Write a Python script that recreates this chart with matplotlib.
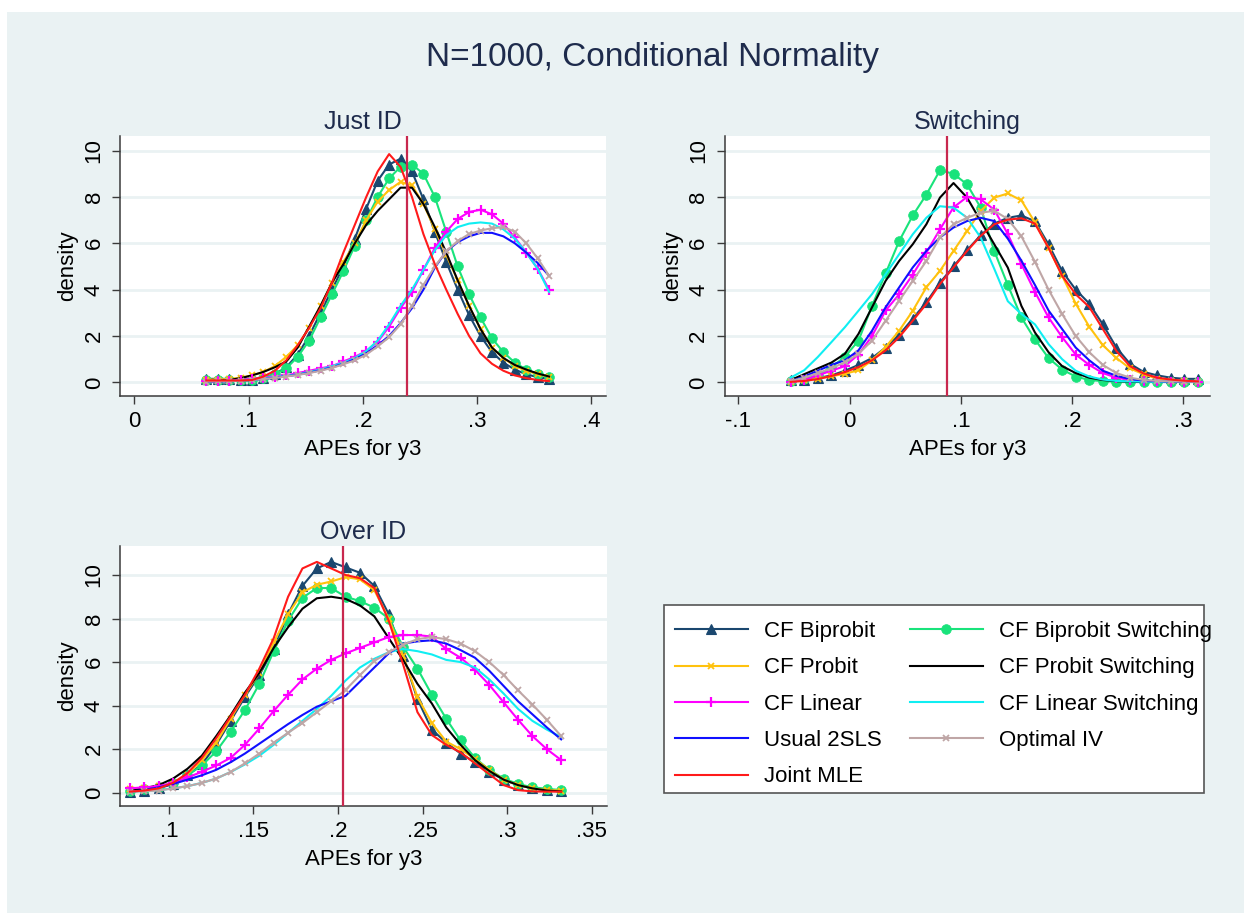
import numpy as np
import matplotlib
matplotlib.use("Agg")
import matplotlib.pyplot as plt
from matplotlib.patches import Rectangle

# ---------------- data ----------------
series_names = ["CF Biprobit", "CF Probit", "CF Linear", "Usual 2SLS", "Joint MLE",
                "CF Biprobit Switching", "CF Probit Switching", "CF Linear Switching", "Optimal IV"]

# Just ID panel (grid of 31 evaluation points)
just_x = np.linspace(0.063, 0.363, 31)
just_cf_biprobit = [0.15, 0.15, 0.15, 0.12, 0.12, 0.2, 0.35, 0.65, 1.2, 2.0, 3.0, 4.0, 5.0, 6.2, 7.5, 8.7,
                    9.4, 9.65, 9.1, 7.9, 6.5, 5.2, 4.0, 2.9, 2.0, 1.3, 0.85, 0.55, 0.35, 0.22, 0.15]
just_cf_probit = [0.12, 0.12, 0.15, 0.2, 0.3, 0.45, 0.7, 1.1, 1.6, 2.35, 3.3, 4.3, 5.2, 6.0, 7.0, 7.8,
                  8.3, 8.65, 8.5, 7.7, 6.6, 5.5, 4.4, 3.3, 2.3, 1.5, 1.05, 0.7, 0.5, 0.35, 0.25]
just_cf_linear = [0.05, 0.05, 0.07, 0.1, 0.15, 0.2, 0.25, 0.3, 0.4, 0.5, 0.6, 0.7, 0.9, 1.1, 1.35, 1.75,
                  2.4, 3.2, 3.9, 4.85, 5.8, 6.5, 7.05, 7.35, 7.45, 7.25, 6.85, 6.25, 5.6, 4.9, 4.0]
just_usual_2sls = [0.02, 0.03, 0.05, 0.07, 0.1, 0.14, 0.2, 0.26, 0.33, 0.42, 0.52, 0.65, 0.8, 1.0, 1.25, 1.6,
                   2.0, 2.55, 3.2, 4.0, 4.95, 5.65, 6.05, 6.3, 6.45, 6.45, 6.3, 6.0, 5.6, 5.15, 4.6]
just_joint_mle = [0.08, 0.08, 0.08, 0.08, 0.1, 0.25, 0.5, 0.95, 1.6, 2.35, 3.2, 4.3, 5.6, 6.8, 8.0, 9.1,
                  9.85, 9.3, 8.0, 6.4, 5.1, 4.0, 2.95, 2.0, 1.25, 0.8, 0.5, 0.3, 0.18, 0.1, 0.05]
just_cf_biprobit_sw = [0.1, 0.1, 0.1, 0.1, 0.12, 0.2, 0.35, 0.6, 1.1, 1.8, 2.8, 3.8, 4.8, 5.9, 7.0, 8.0,
                       8.8, 9.3, 9.4, 9.0, 8.0, 6.5, 5.0, 3.8, 2.8, 1.9, 1.3, 0.85, 0.55, 0.35, 0.25]
just_cf_probit_sw = [0.05, 0.07, 0.1, 0.18, 0.3, 0.45, 0.65, 0.9, 1.5, 2.4, 3.3, 4.3, 5.1, 6.0, 6.8, 7.4,
                     7.9, 8.4, 8.4, 7.7, 6.7, 5.6, 4.4, 3.3, 2.3, 1.5, 1.05, 0.75, 0.55, 0.38, 0.25]
just_cf_linear_sw = [0.05, 0.05, 0.06, 0.08, 0.12, 0.17, 0.22, 0.28, 0.35, 0.45, 0.55, 0.7, 0.85, 1.05, 1.35, 1.8,
                     2.5, 3.3, 4.0, 4.85, 5.7, 6.35, 6.7, 6.85, 6.9, 6.85, 6.6, 6.2, 5.6, 4.9, 3.9]
just_optimal_iv = [0.03, 0.04, 0.05, 0.07, 0.1, 0.14, 0.19, 0.25, 0.32, 0.4, 0.5, 0.62, 0.78, 0.95, 1.2, 1.55,
                   1.95, 2.5, 3.3, 4.2, 5.0, 5.65, 6.1, 6.4, 6.55, 6.65, 6.7, 6.5, 6.0, 5.35, 4.6]

# Switching panel
sw_x = np.linspace(-0.053, 0.313, 31)
sw_cf_biprobit = [0.1, 0.12, 0.18, 0.3, 0.5, 0.75, 1.05, 1.5, 2.05, 2.75, 3.45, 4.3, 5.0, 5.7, 6.35, 6.85,
                  7.1, 7.2, 6.95, 5.95, 4.8, 4.0, 3.4, 2.5, 1.5, 0.8, 0.45, 0.3, 0.2, 0.15, 0.15]
sw_cf_probit = [0.03, 0.08, 0.16, 0.26, 0.37, 0.52, 0.95, 1.52, 2.23, 3.09, 4.1, 4.81, 5.67, 6.53, 7.39, 7.97,
                8.15, 7.85, 6.9, 5.8, 4.6, 3.4, 2.4, 1.6, 1.05, 0.6, 0.35, 0.15, 0.07, 0.04, 0.02]
sw_cf_linear = [0.02, 0.1, 0.3, 0.5, 0.7, 1.2, 2.0, 3.1, 3.8, 4.65, 5.6, 6.6, 7.55, 8.0, 7.9, 7.45,
                6.4, 5.1, 3.9, 2.8, 1.95, 1.2, 0.75, 0.4, 0.2, 0.1, 0.06, 0.04, 0.03, 0.02, 0.02]
sw_usual_2sls = [0.05, 0.25, 0.5, 0.75, 0.95, 1.38, 2.23, 3.24, 4.1, 4.96, 5.67, 6.25, 6.68, 6.96, 7.1, 6.96,
                 6.2, 5.25, 4.2, 3.1, 2.3, 1.5, 0.95, 0.5, 0.28, 0.14, 0.08, 0.05, 0.03, 0.02, 0.02]
sw_joint_mle = [0.02, 0.06, 0.14, 0.27, 0.44, 0.66, 0.95, 1.38, 1.95, 2.66, 3.38, 4.24, 4.96, 5.67, 6.32, 6.82,
                7.02, 7.08, 6.85, 5.8, 4.6, 3.8, 3.25, 2.3, 1.35, 0.7, 0.38, 0.2, 0.12, 0.07, 0.04]
sw_cf_biprobit_sw = [0.05, 0.15, 0.3, 0.65, 1.1, 1.8, 3.3, 4.7, 6.1, 7.2, 8.1, 9.15, 9.0, 8.54, 7.54, 5.67,
                     4.2, 2.8, 1.85, 1.05, 0.55, 0.25, 0.1, 0.05, 0.03, 0.02, 0.02, 0.02, 0.02, 0.02, 0.02]
sw_cf_probit_sw = [0.1, 0.35, 0.6, 0.85, 1.23, 2.09, 3.24, 4.38, 5.24, 5.96, 6.82, 7.97, 8.6, 7.97, 6.96, 5.96,
                   4.95, 3.3, 2.15, 1.3, 0.7, 0.4, 0.2, 0.1, 0.05, 0.03, 0.02, 0.02, 0.02, 0.02, 0.02]
sw_cf_linear_sw = [0.2, 0.52, 1.09, 1.73, 2.38, 3.09, 3.81, 4.67, 5.53, 6.39, 7.1, 7.6, 7.54, 7.1, 6.25, 4.9,
                   3.5, 2.95, 2.5, 1.65, 1.0, 0.5, 0.25, 0.12, 0.06, 0.04, 0.03, 0.02, 0.02, 0.02, 0.02]
sw_optimal_iv = [0.05, 0.2, 0.4, 0.6, 0.87, 1.23, 1.8, 2.66, 3.52, 4.38, 5.24, 6.25, 6.82, 7.1, 7.32, 7.4,
                 7.05, 6.3, 5.2, 4.0, 2.95, 2.0, 1.3, 0.75, 0.4, 0.2, 0.1, 0.06, 0.04, 0.03, 0.02]

# Over ID panel
over_x = np.linspace(0.077, 0.332, 31)
over_cf_biprobit = [0.05, 0.1, 0.2, 0.4, 0.8, 1.3, 2.2, 3.3, 4.4, 5.4, 6.6, 8.2, 9.5, 10.3, 10.6, 10.35,
                    10.1, 9.5, 8.2, 6.3, 4.3, 2.9, 2.3, 1.8, 1.4, 0.95, 0.6, 0.35, 0.2, 0.12, 0.1]
over_cf_probit = [0.15, 0.2, 0.3, 0.45, 0.85, 1.5, 2.3, 3.4, 4.5, 5.5, 6.9, 8.2, 9.2, 9.55, 9.7, 9.9,
                  9.8, 9.3, 8.0, 6.3, 4.4, 3.2, 2.35, 2.0, 1.55, 1.05, 0.6, 0.35, 0.2, 0.12, 0.1]
over_cf_linear = [0.2, 0.25, 0.3, 0.45, 0.7, 0.96, 1.25, 1.6, 2.2, 2.95, 3.75, 4.5, 5.2, 5.7, 6.1, 6.4,
                  6.65, 6.9, 7.15, 7.24, 7.24, 7.17, 6.6, 6.2, 5.65, 4.95, 4.15, 3.35, 2.6, 2.0, 1.5]
over_usual_2sls = [0.05, 0.12, 0.25, 0.4, 0.6, 0.8, 1.05, 1.4, 1.8, 2.25, 2.7, 3.15, 3.57, 3.95, 4.2, 4.45,
                   5.1, 5.75, 6.4, 6.85, 6.95, 7.0, 6.85, 6.55, 6.2, 5.6, 4.9, 4.2, 3.6, 3.0, 2.45]
over_joint_mle = [0.05, 0.1, 0.2, 0.45, 0.9, 1.6, 2.5, 3.5, 4.5, 5.7, 7.1, 9.0, 10.3, 10.6, 10.3, 10.0,
                  9.85, 9.4, 7.9, 5.9, 3.7, 2.65, 2.2, 1.85, 1.35, 0.85, 0.35, 0.12, 0.06, 0.05, 0.05]
over_cf_biprobit_sw = [0.1, 0.15, 0.25, 0.45, 0.8, 1.25, 1.9, 2.8, 3.8, 5.0, 6.5, 7.9, 8.95, 9.4, 9.4, 9.0,
                       8.8, 8.5, 8.0, 6.7, 5.7, 4.5, 3.4, 2.4, 1.6, 1.05, 0.65, 0.4, 0.25, 0.18, 0.12]
over_cf_probit_sw = [0.1, 0.2, 0.35, 0.65, 1.1, 1.7, 2.6, 3.55, 4.6, 5.5, 6.65, 7.6, 8.45, 8.93, 9.0, 8.9,
                     8.6, 8.1, 7.1, 6.1, 5.0, 4.1, 3.0, 2.2, 1.5, 1.0, 0.6, 0.35, 0.2, 0.1, 0.06]
over_cf_linear_sw = [0.05, 0.08, 0.12, 0.2, 0.3, 0.45, 0.65, 0.95, 1.3, 1.7, 2.2, 2.75, 3.3, 3.85, 4.45, 5.15,
                     5.75, 6.15, 6.45, 6.6, 6.5, 6.35, 6.1, 6.0, 5.75, 5.2, 4.55, 3.85, 3.3, 2.9, 2.55]
over_optimal_iv = [0.05, 0.07, 0.1, 0.2, 0.3, 0.45, 0.65, 0.95, 1.35, 1.8, 2.3, 2.75, 3.2, 3.7, 4.2, 4.72,
                   5.4, 6.05, 6.45, 6.8, 7.05, 7.15, 7.05, 6.85, 6.5, 6.0, 5.4, 4.7, 4.05, 3.35, 2.6]

# true values (vertical reference lines)
just_true = 0.239
sw_true = 0.0873
over_true = 0.203

# tick labels
just_xticks = [0, 0.1, 0.2, 0.3, 0.4]
just_xticklabels = ["0", ".1", ".2", ".3", ".4"]
sw_xticks = [-0.1, 0, 0.1, 0.2, 0.3]
sw_xticklabels = ["-.1", "0", ".1", ".2", ".3"]
over_xticks = [0.1, 0.15, 0.2, 0.25, 0.3, 0.35]
over_xticklabels = [".1", ".15", ".2", ".25", ".3", ".35"]
yticks = [0, 2, 4, 6, 8, 10]
yticklabels = ["0", "2", "4", "6", "8", "10"]

# ---------------- styling ----------------
W, H = 1244, 913
BG = "#EAF2F3"
TITLE_C = "#1E2B4C"
plt.rcParams["font.family"] = ["Liberation Sans", "DejaVu Sans"]

styles = [
    dict(color="#1A476F", marker="^", ms=6.8, mew=0.8),        # CF Biprobit
    dict(color="#FFC20E", marker="x", ms=5.0, mew=1.3),        # CF Probit
    dict(color="#FF00FF", marker="+", ms=7.5, mew=1.6),        # CF Linear
    dict(color="#1010FF", marker=None, ms=0, mew=0),           # Usual 2SLS
    dict(color="#FF1A1A", marker=None, ms=0, mew=0),           # Joint MLE
    dict(color="#19E37B", marker="o", ms=7.0, mew=0.5),        # CF Biprobit Switching
    dict(color="#000000", marker=None, ms=0, mew=0),           # CF Probit Switching
    dict(color="#10EEF2", marker=None, ms=0, mew=0),           # CF Linear Switching
    dict(color="#BFA6A6", marker="x", ms=5.0, mew=1.3),        # Optimal IV
]
# drawing order follows Stata's row-wise legend order
draw_order = [0, 5, 1, 6, 2, 7, 3, 8, 4]

fig = plt.figure(figsize=(W / 100, H / 100), dpi=100, facecolor="white")
fig.patches.append(Rectangle((7 / W, 0), 1 - 7 / W, 1 - 12 / H, transform=fig.transFigure,
                             facecolor=BG, edgecolor="none", zorder=-10))


def px_axes(l, t, r, b):
    return fig.add_axes([l / W, 1 - b / H, (r - l) / W, (b - t) / H])


def setup(ax, xlim, ylim, xticks, xticklabels, title, true_val, xs, ys_list):
    ax.set_facecolor("white")
    handles = {}
    for rank, i in enumerate(draw_order):
        st = styles[i]
        ln, = ax.plot(xs, ys_list[i], color=st["color"], lw=1.5, marker=st["marker"],
                      ms=st["ms"], mew=st["mew"], mec=st["color"], mfc=st["color"],
                      label=series_names[i], zorder=3 + rank * 0.1)
        handles[i] = ln
    ax.axvline(true_val, color="#C8284E", lw=1.6, zorder=10)
    ax.set_xlim(*xlim)
    ax.set_ylim(*ylim)
    ax.set_xticks(xticks)
    ax.set_xticklabels(xticklabels)
    ax.set_yticks(yticks)
    ax.set_yticklabels(yticklabels, rotation=90, va="center")
    ax.yaxis.grid(True, color=BG, lw=2.0)
    ax.set_axisbelow(True)
    for s in ("top", "right"):
        ax.spines[s].set_visible(False)
    for s in ("left", "bottom"):
        ax.spines[s].set_color("#3a3a3a")
        ax.spines[s].set_linewidth(1.1)
    ax.tick_params(axis="both", direction="out", length=6, width=1.0, color="#3a3a3a",
                   labelsize=16, pad=5)
    ax.set_xlabel("APEs for y3", fontsize=16, labelpad=5)
    ax.set_ylabel("density", fontsize=16, labelpad=4)
    ax.set_title(title, fontsize=18, color=TITLE_C, pad=5)
    return handles


ax1 = px_axes(120, 136, 606, 396)
h = setup(ax1, (-0.0125, 0.4128), (-0.59, 10.63), just_xticks, just_xticklabels, "Just ID", just_true,
          just_x, [just_cf_biprobit, just_cf_probit, just_cf_linear, just_usual_2sls, just_joint_mle,
                   just_cf_biprobit_sw, just_cf_probit_sw, just_cf_linear_sw, just_optimal_iv])

ax2 = px_axes(724.5, 136, 1210, 396)
setup(ax2, (-0.1124, 0.3239), (-0.59, 10.63), sw_xticks, sw_xticklabels, "Switching", sw_true,
      sw_x, [sw_cf_biprobit, sw_cf_probit, sw_cf_linear, sw_usual_2sls, sw_joint_mle,
             sw_cf_biprobit_sw, sw_cf_probit_sw, sw_cf_linear_sw, sw_optimal_iv])

ax3 = px_axes(120, 546, 607, 806)
setup(ax3, (0.0711, 0.3591), (-0.61, 11.33), over_xticks, over_xticklabels, "Over ID", over_true,
      over_x, [over_cf_biprobit, over_cf_probit, over_cf_linear, over_usual_2sls, over_joint_mle,
               over_cf_biprobit_sw, over_cf_probit_sw, over_cf_linear_sw, over_optimal_iv])

fig.text(652.8 / W, 1 - 57.5 / H, "N=1000, Conditional Normality", ha="center", va="center",
         fontsize=24, color=TITLE_C)

# legend frame (drawn separately so the text may touch the border as in the original)
fig.patches.append(Rectangle((663.6 / W, 1 - 793.3 / H), 540 / W, 188.3 / H, transform=fig.transFigure,
                             facecolor="white", edgecolor="#555555", lw=1.2, zorder=1))
leg_handles = [h[i] for i in range(9)]
leg = fig.legend(leg_handles, series_names, loc="upper left",
                 bbox_to_anchor=(675 / W, 1 - 621 / H),
                 ncol=2, numpoints=1, fontsize=16, frameon=False, borderaxespad=0,
                 handlelength=3.27, handletextpad=0.72, labelspacing=0.69, borderpad=0.0,
                 columnspacing=1.28)
leg.set_zorder(5)

fig.savefig("out.png", dpi=100, facecolor=fig.get_facecolor())
